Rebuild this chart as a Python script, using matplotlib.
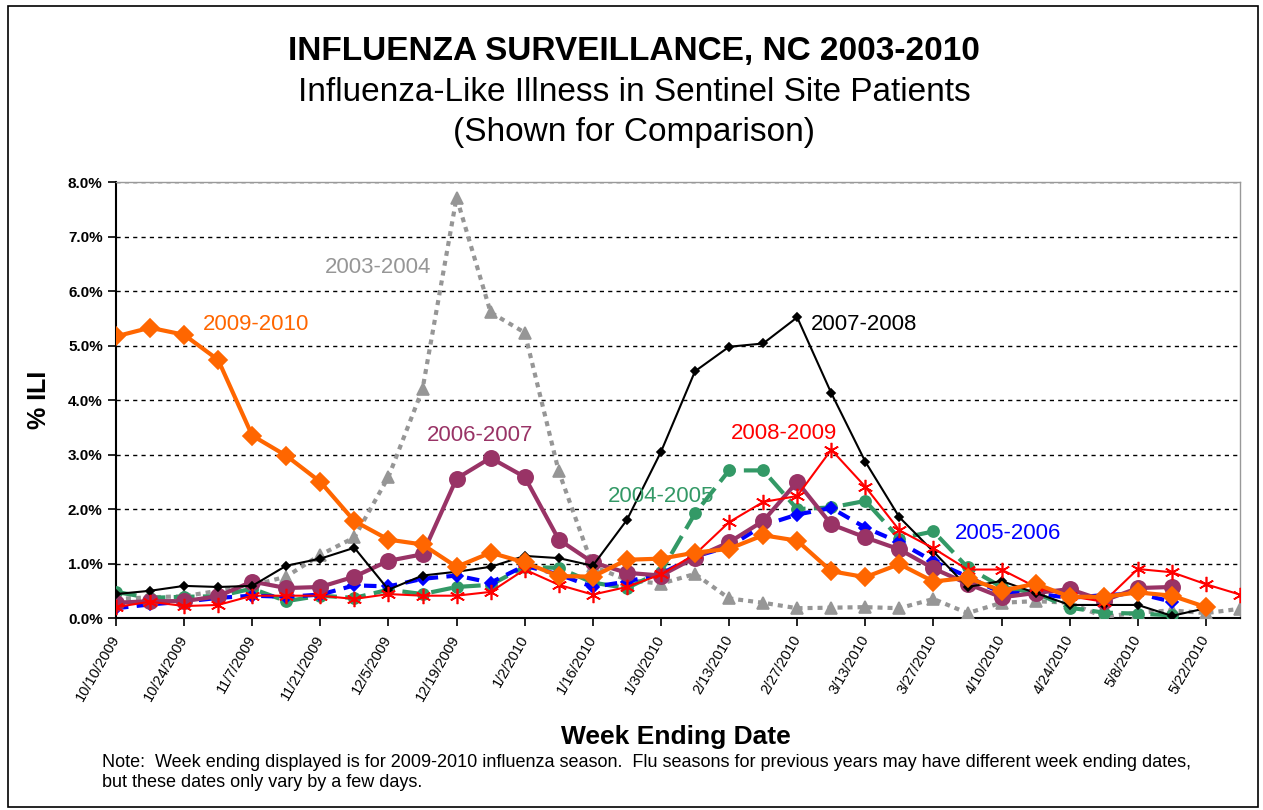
import numpy as np
import matplotlib.pyplot as plt
from matplotlib.patches import Rectangle
from matplotlib.ticker import FuncFormatter, MultipleLocator

plt.rcParams['font.family'] = ['Liberation Sans', 'DejaVu Sans']

# week ending dates (2009-2010 season), one per week
tick_labels = ['10/10/2009', '10/24/2009', '11/7/2009', '11/21/2009', '12/5/2009',
               '12/19/2009', '1/2/2010', '1/16/2010', '1/30/2010', '2/13/2010',
               '2/27/2010', '3/13/2010', '3/27/2010', '4/10/2010', '4/24/2010',
               '5/8/2010', '5/22/2010']
n_weeks = 34
nan = np.nan

# % ILI per week
ili_2003 = [0.35, 0.38, 0.4, 0.5, 0.6, 0.76, 1.16, 1.48, 2.59, 4.2, 7.72, 5.61, 5.24, 2.69,
            0.95, 0.7, 0.63, 0.81, 0.36, 0.28, 0.18, 0.19, 0.2, 0.18, 0.35, 0.09, 0.28, 0.31,
            0.28, 0.02, 0.1, 0.14, 0.09, 0.17]
ili_2004 = [0.48, 0.37, 0.39, 0.4, 0.54, 0.31, 0.41, 0.37, 0.52, 0.44, 0.57, 0.61, 0.94, 0.92,
            0.65, 0.55, 0.85, 1.92, 2.71, 2.71, 2.0, 2.03, 2.15, 1.46, 1.59, 0.93, 0.57, 0.46,
            0.19, 0.1, 0.08, 0.05, nan, nan]
ili_2005 = [0.18, 0.25, 0.3, 0.37, 0.41, 0.39, 0.43, 0.6, 0.58, 0.72, 0.78, 0.65, 0.96, 0.8,
            0.57, 0.67, 0.81, 1.13, 1.31, 1.7, 1.9, 2.02, 1.66, 1.39, 1.04, 0.76, 0.46, 0.45,
            0.37, 0.42, 0.45, 0.3, nan, nan]
ili_2006 = [0.28, 0.31, 0.31, 0.4, 0.67, 0.55, 0.57, 0.76, 1.05, 1.17, 2.56, 2.94, 2.59, 1.44,
            1.02, 0.83, 0.78, 1.11, 1.39, 1.78, 2.5, 1.72, 1.48, 1.26, 0.91, 0.63, 0.38, 0.46,
            0.53, 0.32, 0.55, 0.57, nan, nan]
ili_2007 = [0.44, 0.5, 0.59, 0.57, 0.59, 0.96, 1.09, 1.29, 0.52, 0.78, 0.85, 0.94, 1.14, 1.1,
            0.96, 1.8, 3.05, 4.53, 4.98, 5.04, 5.52, 4.13, 2.87, 1.85, 1.22, 0.57, 0.68, 0.46,
            0.24, 0.24, 0.24, 0.04, 0.18, nan]
ili_2008 = [0.2, 0.3, 0.22, 0.24, 0.41, 0.41, 0.41, 0.35, 0.44, 0.41, 0.41, 0.48, 0.89, 0.61,
            0.43, 0.57, 0.8, 1.17, 1.76, 2.13, 2.24, 3.09, 2.41, 1.61, 1.28, 0.89, 0.89, 0.57,
            0.4, 0.3, 0.9, 0.84, 0.62, 0.43]
ili_2009 = [5.17, 5.33, 5.2, 4.74, 3.35, 2.98, 2.5, 1.78, 1.44, 1.35, 0.94, 1.2, 1.02, 0.77,
            0.76, 1.07, 1.09, 1.2, 1.27, 1.52, 1.42, 0.86, 0.75, 0.99, 0.67, 0.74, 0.5, 0.63,
            0.39, 0.39, 0.47, 0.41, 0.2, nan]

weeks = np.arange(n_weeks)

fig = plt.figure(figsize=(12.63, 8.10), dpi=100)
ax = fig.add_axes([0.0918, 0.237, 0.8900, 0.538])

# (data, label, color, linestyle, linewidth, marker, markersize, label pos)
series = [
    (ili_2003, '2003-2004', '#969696', (0, (1.2, 1.2)), 3, '^', 9, (7.7, 6.43)),
    (ili_2004, '2004-2005', '#339966', (0, (5, 2)), 3, 'o', 8, (16.0, 2.24)),
    (ili_2005, '2005-2006', '#0000FF', (0, (3, 2)), 3, 'D', 6, (26.2, 1.56)),
    (ili_2006, '2006-2007', '#993366', '-', 3, 'o', 11, (10.7, 3.35)),
    (ili_2007, '2007-2008', '#000000', '-', 1.5, 'D', 4.5, (21.95, 5.39)),
    (ili_2008, '2008-2009', '#FF0000', '-', 1.5, (6, 2, 0), 11, (19.6, 3.38)),
    (ili_2009, '2009-2010', '#FF6600', '-', 3, 'D', 9, (4.1, 5.39)),
]

for z, (vals, name, color, ls, lw, mk, ms, pos) in enumerate(series):
    ax.plot(weeks, vals, color=color, linestyle=ls, linewidth=lw, marker=mk,
            markersize=ms, markerfacecolor=color, markeredgecolor=color,
            markeredgewidth=1.2, zorder=3 + z)
    ax.text(pos[0], pos[1], name, color=color, fontsize=16, ha='center', va='center',
            zorder=20)

ax.set_xlim(0, n_weeks - 1)
ax.set_ylim(0, 8)
ax.yaxis.set_major_locator(MultipleLocator(1))
ax.yaxis.set_major_formatter(FuncFormatter(lambda v, p: '%.1f%%' % v))
ax.grid(axis='y', color='black', linestyle=(0, (3, 3)), linewidth=1)
ax.set_axisbelow(True)

ax.set_xticks(weeks[::2])
ax.set_xticklabels(tick_labels, rotation=60, ha='right', va='center',
                   rotation_mode='anchor', fontsize=10.5)
for lab in ax.get_yticklabels():
    lab.set_fontweight('bold')
    lab.set_fontsize(11)
ax.tick_params(axis='both', direction='out', length=6, width=1.2, color='black')
ax.tick_params(axis='x', pad=7)

for side in ['top', 'right']:
    ax.spines[side].set_color('#999999')
    ax.spines[side].set_linewidth(1)
for side in ['left', 'bottom']:
    ax.spines[side].set_color('black')
    ax.spines[side].set_linewidth(1.5)

ax.set_ylabel('% ILI', fontsize=18, fontweight='bold', labelpad=12)

fig.text(0.502, 0.937, 'INFLUENZA SURVEILLANCE, NC 2003-2010', ha='center', va='center',
         fontsize=24, fontweight='bold')
fig.text(0.502, 0.886, 'Influenza-Like Illness in Sentinel Site Patients', ha='center',
         va='center', fontsize=24)
fig.text(0.502, 0.836, '(Shown for Comparison)', ha='center', va='center', fontsize=24)

fig.text(0.535, 0.090, 'Week Ending Date', ha='center', va='center', fontsize=19,
         fontweight='bold')
note = ('Note:  Week ending displayed is for 2009-2010 influenza season.  Flu seasons for '
        'previous years may have different week ending dates,\nbut these dates only vary by '
        'a few days.')
fig.text(0.081, 0.046, note, ha='left', va='center', fontsize=13, linespacing=1.25)

fig.patches.append(Rectangle((0.006, 0.004), 0.990, 0.989, transform=fig.transFigure,
                             fill=False, edgecolor='black', linewidth=1.2))

fig.savefig('out.png', dpi=100)
